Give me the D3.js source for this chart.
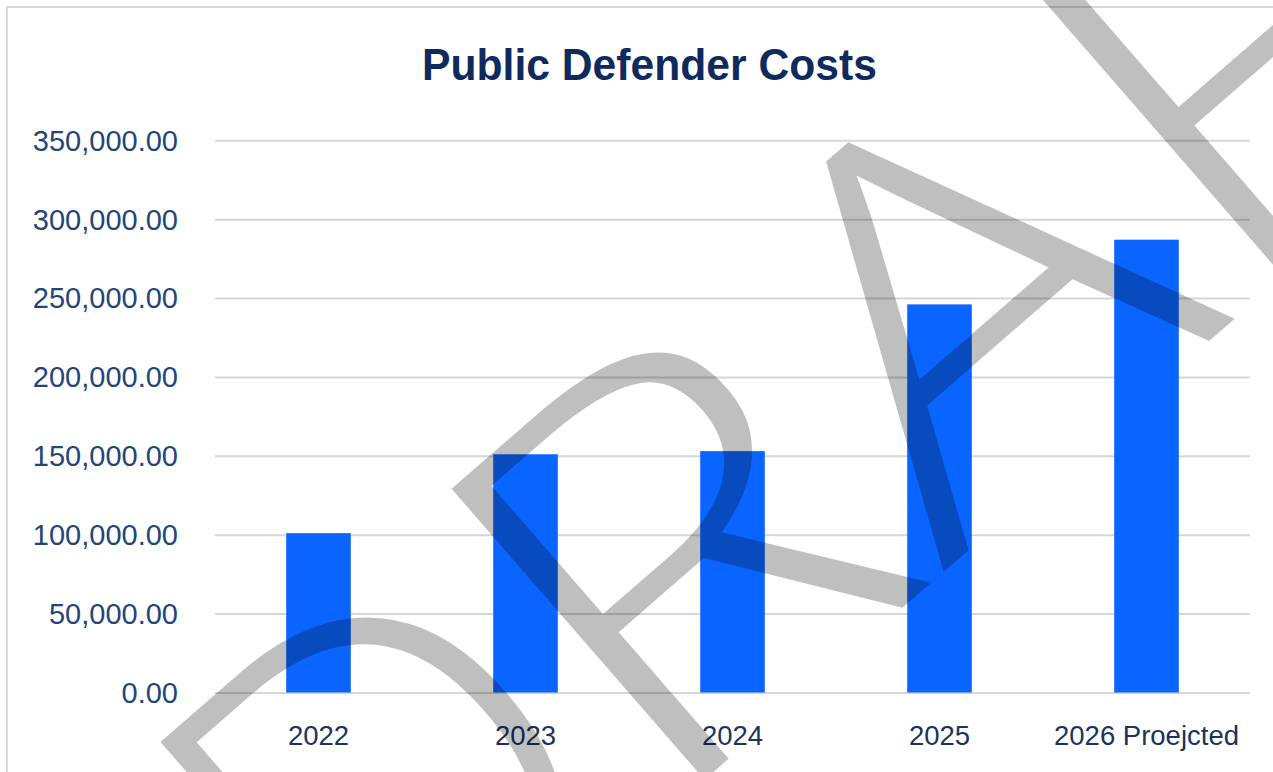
<!DOCTYPE html>
<html>
<head>
<meta charset="utf-8">
<script src="https://cdn.jsdelivr.net/npm/d3@7/dist/d3.min.js"></script>
<style>
  html, body { margin: 0; padding: 0; background: #ffffff; }
  svg { display: block; }
</style>
</head>
<body>
<svg id="chart" width="1273" height="772"></svg>
<script>
const categories = ["2022", "2023", "2024", "2025", "2026 Proejcted"];
const costs = [101000, 151000, 153000, 246000, 287000];
const yTicks = [0, 50000, 100000, 150000, 200000, 250000, 300000, 350000];
const chartTitle = "Public Defender Costs";
const watermarkLetters = ["D", "R", "A", "F", "T"];

const W = 1273, H = 772;
const margin = { left: 215, right: 23, top: 140, bottom: 80 };
const svg = d3.select("#chart");

// outer frame
svg.append("rect")
  .attr("x", 7).attr("y", 7)
  .attr("width", W + 20).attr("height", H + 20)
  .attr("fill", "#ffffff")
  .attr("stroke", "#d9d9d9").attr("stroke-width", 2);

const x = d3.scaleBand()
  .domain(categories)
  .range([margin.left, W - margin.right])
  .paddingInner(0.688)
  .paddingOuter(0.344);

const y = d3.scaleLinear()
  .domain([0, 350000])
  .range([692.5, 140.3]);

// title
svg.append("text")
  .attr("x", 649.5).attr("y", 80)
  .attr("text-anchor", "middle")
  .attr("font-family", "'Liberation Sans', Arial, sans-serif")
  .attr("font-weight", 700)
  .attr("font-size", 45)
  .attr("fill", "#0f2a5c")
  .attr("textLength", 455)
  .attr("lengthAdjust", "spacingAndGlyphs")
  .text(chartTitle);

// y axis with gridlines
const yAxis = d3.axisLeft(y)
  .tickValues(yTicks)
  .tickSize(-(W - margin.right - margin.left))
  .tickPadding(37)
  .tickFormat(d3.format(",.2f"));

const gy = svg.append("g")
  .attr("transform", `translate(${margin.left},0)`)
  .call(yAxis);
gy.select(".domain").remove();
gy.selectAll(".tick line")
  .attr("stroke", "#d6d6d6")
  .attr("stroke-width", 2);
gy.selectAll(".tick text")
  .attr("font-family", "'Liberation Sans', Arial, sans-serif")
  .attr("font-size", 29)
  .attr("fill", "#24457a")
  .attr("dy", "0.34em");

// bars
svg.append("g")
  .selectAll("rect")
  .data(costs)
  .join("rect")
  .attr("x", (d, i) => x(categories[i]))
  .attr("y", d => y(d))
  .attr("width", x.bandwidth())
  .attr("height", d => y(0) - y(d))
  .attr("fill", "#0a64ff");

// x axis labels
const xAxis = d3.axisBottom(x).tickSize(0).tickPadding(33);
const gx = svg.append("g")
  .attr("transform", `translate(0,${y(0)})`)
  .call(xAxis);
gx.select(".domain").remove();
gx.selectAll(".tick text")
  .attr("font-family", "'Liberation Sans', Arial, sans-serif")
  .attr("font-size", 27.5)
  .attr("fill", "#1b335f")
  .attr("dy", "0.71em");

// DRAFT watermark
const letterX = [-772, -396, -15, 371, 700];
const letterScale = [1.0, 1.18, 1.19, 1.18, 1.18];
const wm = svg.append("g")
  .attr("transform", "translate(955,562) rotate(-41)")
  .attr("pointer-events", "none");
wm.selectAll("text")
  .data(watermarkLetters)
  .join("text")
  .attr("transform", (d, i) => `translate(${letterX[i]},0) scale(${letterScale[i]},1)`)
  .attr("x", 0)
  .attr("y", 0)
  .attr("font-family", "'Open Sans', sans-serif")
  .attr("font-weight", 300)
  .attr("font-size", 540)
  .attr("fill", "#000000")
  .attr("fill-opacity", 0.25)
  .text(d => d);
</script>
</body>
</html>
